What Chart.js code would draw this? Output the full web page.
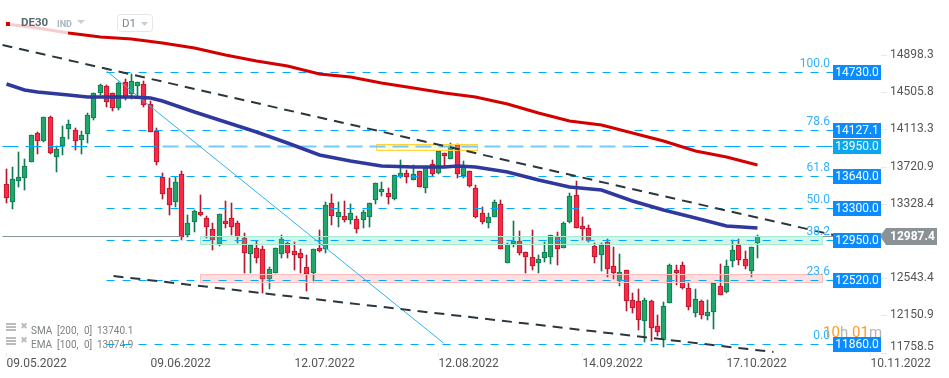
<!DOCTYPE html>
<html>
<head>
<meta charset="utf-8">
<title>DE30 D1</title>
<script src="https://cdn.jsdelivr.net/npm/chart.js@4/dist/chart.umd.min.js"></script>
<style>
  html, body { margin: 0; padding: 0; background: #fff; }
  #wrap { position: relative; width: 949px; height: 378px; }
</style>
</head>
<body>
<div id="wrap"><canvas id="chart"></canvas></div>
<script>
// daily candles, one entry per bar
var openP = [13534,13344,13572,13604,13766,14072,13994,14241,13825,13935,14121,14104,14005,14068,14237,14500,14568,14494,14342,14610,14487,14574,14589,14378,14096,13608,13492,13344,13640,13002,13133,13239,13175,13059,12904,13144,13175,13123,12964,12802,12859,12848,12535,12601,12802,12918,12827,12806,12658,12601,12859,12848,13334,13192,13197,13161,13165,13163,13192,13372,13456,13439,13382,13614,13650,13579,13671,13498,13745,13656,13861,13804,13945,13622,13671,13492,13228,13129,13186,13323,12701,12907,12933,12817,12770,12707,12753,12770,12985,12865,13133,13418,13091,13070,12880,12785,12922,12669,12517,12627,12313,12300,12095,12303,12036,11888,12279,12627,12680,12437,12179,12303,12145,12190,12461,12401,12728,12894,12743,12623,12915];
var highP = [13696,13713,13872,13798,14051,14083,14241,14252,13938,14149,14209,14125,14096,14286,14500,14592,14582,14500,14610,14645,14698,14610,14621,14413,14125,13653,13601,13608,13671,13210,13260,13421,13200,13123,13218,13358,13334,13144,13020,12897,12933,12880,12662,12862,12999,12929,12922,12851,12785,12855,13052,13350,13432,13347,13355,13326,13197,13263,13337,13545,13558,13492,13629,13790,13682,13738,13674,13727,13790,13885,13868,13967,13956,13780,13671,13527,13291,13228,13368,13368,12912,13147,13041,12817,13049,12788,12925,12996,13034,13133,13439,13566,13186,13101,12912,12918,12954,12873,12799,12630,12384,12426,12331,12313,12155,12296,12690,12680,12711,12496,12430,12313,12313,12490,12693,12735,12946,12954,12827,12876,12999];
var lowP = [13340,13277,13509,13474,13766,13854,13984,13854,13667,13846,14012,13899,13857,13973,14212,14476,14353,14304,14318,14423,14434,14458,14353,14083,13741,13376,13213,13298,12946,12975,13034,13200,12968,12841,12886,13070,12999,12918,12595,12598,12707,12384,12433,12595,12753,12760,12630,12595,12412,12517,12823,12812,13108,13087,13136,13115,13023,13076,13087,13329,13414,13329,13372,13601,13548,13579,13509,13445,13622,13643,13720,13804,13604,13604,13509,13175,13115,13073,13186,12848,12701,12876,12788,12601,12630,12595,12718,12693,12683,12865,13129,13070,12946,12929,12701,12623,12559,12532,12464,12197,12180,11997,11874,11884,11934,11821,12279,12472,12430,12208,12137,12113,12102,12008,12369,12384,12665,12683,12641,12559,12760];
var closeP = [13386,13587,13608,13724,14051,13994,14241,13868,13903,14030,14167,13994,14051,14262,14494,14579,14399,14342,14600,14445,14621,14610,14368,14083,13773,13435,13313,13555,12975,13123,13249,13213,13080,12943,13218,13118,13087,12981,12812,12897,12760,12532,12637,12859,12954,12812,12791,12760,12588,12848,12834,13313,13197,13239,13161,13228,13059,13239,13334,13545,13481,13403,13629,13650,13614,13640,13509,13713,13646,13882,13836,13938,13646,13720,13519,13192,13139,13186,13344,12848,12904,12933,12806,12770,12675,12743,12817,12996,12848,13123,13407,13070,13059,12933,12770,12897,12644,12601,12606,12306,12232,12106,12313,12015,11979,12247,12680,12598,12440,12243,12321,12155,12184,12490,12369,12669,12838,12735,12669,12869,12987.4];

// moving averages, read at these bars
var smaBars = [0,5,10,15,20,25,30,35,40,45,50,55,60,65,70,75,80,85,90,95,100,105,110,115,120];
var smaVals = [15225,15178,15130,15093,15072,15020,14972,14898,14840,14782,14703,14666,14603,14550,14502,14450,14381,14286,14205,14162,14075,13996,13885,13822,13740];
var emaBars = [0,3,5,10,13,20,23,25,30,35,40,45,50,55,60,65,70,72,75,80,85,90,95,100,105,110,115,120];
var emaVals = [14592,14529,14508,14476,14450,14450,14445,14418,14297,14191,14081,13970,13843,13775,13732,13720,13722,13732,13717,13659,13580,13506,13469,13363,13263,13179,13094,13075];

// fibonacci levels and the drawn objects, in bars and prices
var fibPrices = [14730,14127.1,13640,13300,12950,12520,11860];
var fibTexts = ['100.0','78.6','61.8','50.0','38.2','23.6','0.0'];
var tagPrices = [14730,14127.1,13950,13640,13300,12950,12520,11860];
var levelLine = 13950;
var lastPrice = 12987.4;
var lastLine = 12996;
var lineStart = -0.67, lineEnd = 132.1, fibStart = 16;
var upperTrendBars = [-0.67,132.1], upperTrendVals = [15004,12999];
var lowerTrendBars = [17.06,122.5], lowerTrendVals = [12563,11765];
var fibDiagBars = [16,69.9], fibDiagVals = [14730,11860];
var greenZone = [31,130.3,12996,12911];
var redZone = [31,130.3,12593,12509];
var yellowZone = [59.1,75.2,13969,13906];

// axes
var yTicks = [14898.3,14505.8,14113.3,13720.9,13328.4,12543.4,12150.9,11758.5];
var xTickBars = [0,23,46,69,92,115,138];
var xTickDates = ['09.05.2022','09.06.2022','12.07.2022','12.08.2022','14.09.2022','17.10.2022','10.11.2022'];
var yMin = 11754.8, yMax = 15478.5;
// drawing tools sit on their own slightly offset price range
var toolMin = 11757.6, toolMax = 15493;

var GREEN = '#20a56b', GREEN_DARK = '#0f7a50', RED = '#fb2a44', RED_DARK = '#b8162e';
var FONT = 'Roboto, sans-serif';

function isUp(i) { return closeP[i] >= openP[i]; }
function series(bars, vals) { return bars.map(function (b, i) { return { x: b, y: vals[i] }; }); }
function hline(price, from, to, color, width, dash, order) {
  return {
    type: 'line', data: [{ x: from, y: price }, { x: to, y: price }], yAxisID: 'yl',
    borderColor: color, borderWidth: width, borderDash: dash, pointRadius: 0, order: order
  };
}
function zone(z, border, fill, order) {
  return {
    type: 'line', yAxisID: 'yl', order: order, fill: 'shape', tension: 0, pointRadius: 0,
    borderColor: border, borderWidth: 1, backgroundColor: fill,
    data: [{ x: z[0], y: z[2] }, { x: z[1], y: z[2] }, { x: z[1], y: z[3] }, { x: z[0], y: z[3] }, { x: z[0], y: z[2] }]
  };
}

var datasets = [];
datasets.push({
  type: 'bar', grouped: false, order: 21, barThickness: 1, borderWidth: 0,
  data: openP.map(function (o, i) { return { x: i, y: [lowP[i], highP[i]] }; }),
  backgroundColor: openP.map(function (o, i) { return isUp(i) ? GREEN_DARK : RED_DARK; })
});
datasets.push({
  type: 'bar', grouped: false, order: 20, barThickness: 5, borderWidth: 1, borderSkipped: false,
  data: openP.map(function (o, i) { return { x: i, y: [o, closeP[i]] }; }),
  backgroundColor: openP.map(function (o, i) { return isUp(i) ? GREEN : RED; }),
  borderColor: openP.map(function (o, i) { return isUp(i) ? GREEN_DARK : RED_DARK; })
});
datasets.push(hline(lastLine, lineStart, 28, '#8a9499', 1, [], 15));
datasets.push(hline(lastLine, 130.3, lineEnd, '#8a9499', 1, [], 15));
datasets.push(zone(greenZone, '#a3ebd3', 'rgba(70,214,165,0.24)', 6));
datasets.push(zone(redZone, '#ffbcbc', 'rgba(255,120,120,0.24)', 6));
datasets.push(zone(yellowZone, '#ffd23f', 'rgba(255,232,120,0.28)', 6));
fibPrices.forEach(function (p) {
  datasets.push(hline(p, fibStart, lineEnd, '#00aaff', 1, [8, 8], 5));
});
// the 13950 level is paler through the middle of the chart
datasets.push(hline(levelLine, lineStart, 25, '#00aaff', 1, [16, 7], 5));
datasets.push(hline(levelLine, 25, 100, 'rgba(100,198,255,0.9)', 2, [16, 7], 5));
datasets.push(hline(levelLine, 100, lineEnd, '#00aaff', 1, [16, 7], 5));
datasets.push({
  type: 'line', data: series(fibDiagBars, fibDiagVals), borderColor: '#2db2f0',
  borderWidth: 1, pointRadius: 0, order: 4
});
datasets.push({
  type: 'line', data: series(smaBars, smaVals), borderColor: '#d40000',
  borderWidth: 3, pointRadius: 0, order: 3
});
datasets.push({
  type: 'line', data: series(emaBars, emaVals), borderColor: '#2f389c',
  borderWidth: 3.5, pointRadius: 0, order: 3
});
datasets.push({
  type: 'line', data: series(upperTrendBars, upperTrendVals), borderColor: '#2a363e',
  borderWidth: 2, borderDash: [10, 7], pointRadius: 0, order: 2
});
datasets.push({
  type: 'line', data: series(lowerTrendBars, lowerTrendVals), borderColor: '#2a363e',
  borderWidth: 2, borderDash: [10, 7], pointRadius: 0, order: 2
});

function text(ctx, str, x, y, font, color, align) {
  ctx.font = font;
  ctx.fillStyle = color;
  ctx.textAlign = align || 'left';
  ctx.textBaseline = 'middle';
  ctx.fillText(str, x, y);
}
function tri(ctx, x0, x1, y0, y1, color) {
  ctx.fillStyle = color;
  ctx.beginPath();
  ctx.moveTo(x0, y0);
  ctx.lineTo(x1, y0);
  ctx.lineTo((x0 + x1) / 2, y1);
  ctx.closePath();
  ctx.fill();
}
function legendRow(ctx, y, parts) {
  ctx.fillStyle = '#b9bcbd';
  ctx.fillRect(6, y - 6, 10, 2);
  ctx.fillRect(6, y - 3, 10, 2);
  ctx.fillRect(6, y, 10, 2);
  text(ctx, '\u2716', 24, y - 2, '9px "DejaVu Sans"', '#b9bcbd', 'center');
  parts.forEach(function (p) {
    text(ctx, p[0], p[1], y + 2, '10px ' + FONT, 'rgba(110,115,118,0.9)');
  });
}

// pixel snapping for crisp candles, chart overlays
var overlay = {
  id: 'overlay',
  beforeDatasetsUpdate: function (chart) {
    if (chart.$snapped) return;
    chart.$snapped = true;
    var sx = chart.scales.x, sy = chart.scales.y, sl = chart.scales.yl;
    var fx = sx.getPixelForValue.bind(sx), fy = sy.getPixelForValue.bind(sy), fl = sl.getPixelForValue.bind(sl);
    sx.getPixelForValue = function (v) { return Math.floor(fx(v)) + 0.5; };
    sy.getPixelForValue = function (v) { return Math.round(fy(v)); };
    sl.getPixelForValue = function (v) { return Math.round(fl(v) / 2) * 2 + 0.5; };
  },
  afterDatasetsDraw: function (chart) {
    var ctx = chart.ctx, y = chart.scales.yl;
    ctx.save();

    // header fades the start of the SMA line
    ctx.fillStyle = 'rgba(255,255,255,0.8)';
    ctx.fillRect(10, 18, 58, 20);
    ctx.fillStyle = '#d40000';
    ctx.fillRect(6, 22, 4, 4);
    text(ctx, 'DE30', 21, 23.5, 'bold 11.5px ' + FONT, '#5b6873');
    text(ctx, 'IND', 57, 24.5, 'bold 9px ' + FONT, '#a9b4bd');
    tri(ctx, 77, 85, 20, 24, '#c9ced2');
    ctx.strokeStyle = '#e6e6e6';
    ctx.lineWidth = 1;
    ctx.beginPath();
    ctx.roundRect(117.5, 14.5, 35, 17, 3);
    ctx.stroke();
    text(ctx, 'D1', 122, 24, '11.5px ' + FONT, '#7a8691');
    tri(ctx, 141, 148, 22, 26, '#c9ced2');

    legendRow(ctx, 329, [['SMA', 31], ['[200,', 57], ['0]', 84], ['13740.1', 97]]);
    legendRow(ctx, 343, [['EMA', 31], ['[100,', 57], ['0]', 84], ['13074.9', 97]]);

    fibPrices.forEach(function (p, i) {
      text(ctx, fibTexts[i], 830, Math.floor(y.getPixelForValue(p)) - 8.5, '12px ' + FONT, '#33b1ff', 'right');
    });

    // countdown to candle close
    var cy = 333, cf = '15px ' + FONT;
    text(ctx, '10', 823, cy, cf, '#ff9a1f');
    text(ctx, 'h', 840, cy, cf, '#b5b5b5');
    text(ctx, '01', 852, cy, cf, '#ff9a1f');
    text(ctx, 'm', 869, cy, cf, '#b5b5b5');

    tagPrices.forEach(function (p) {
      var py = Math.floor(y.getPixelForValue(p));
      ctx.fillStyle = p === levelLine ? '#0aa6ee' : '#0a8cff';
      ctx.fillRect(833, py - 7, 48, 15);
      text(ctx, p.toFixed(1), 857, py + 0.5, '12px ' + FONT, '#fff', 'center');
    });

    // last price tag
    var ly = Math.round(chart.scales.y.getPixelForValue(lastPrice));
    ctx.fillStyle = '#8a9296';
    ctx.beginPath();
    ctx.moveTo(880, ly);
    ctx.lineTo(886, ly - 8);
    ctx.lineTo(937, ly - 8);
    ctx.lineTo(937, ly + 9);
    ctx.lineTo(886, ly + 9);
    ctx.closePath();
    ctx.fill();
    text(ctx, lastPrice.toFixed(1), 890, ly + 0.5, 'bold 12px ' + FONT, '#fff');

    // lowest price tick sits above its mark so it clears the date axis
    text(ctx, yTicks[yTicks.length - 1].toFixed(1), 890, 347, '12px ' + FONT, '#555');
    ctx.restore();
  }
};

new Chart(document.getElementById('chart'), {
  data: { datasets: datasets },
  plugins: [overlay],
  options: {
    responsive: true,
    maintainAspectRatio: false,
    animation: false,
    events: [],
    layout: { padding: 0 },
    plugins: { legend: { display: false }, tooltip: { enabled: false } },
    scales: {
      x: {
        type: 'linear', min: -0.99, max: 139.7, offset: false,
        afterFit: function (s) { s.height = 25; s.paddingLeft = 0; s.paddingRight = 0; },
        afterBuildTicks: function (s) { s.ticks = xTickBars.map(function (b) { return { value: b }; }); },
        border: { display: false },
        grid: { offset: false, drawOnChartArea: false, tickLength: 3, color: '#e2e2e2' },
        ticks: {
          align: 'start', autoSkip: false, maxRotation: 0, padding: 1,
          color: '#555', font: { family: FONT, size: 12 },
          callback: function (v) { return xTickDates[xTickBars.indexOf(v)]; }
        }
      },
      y: {
        position: 'right', min: yMin, max: yMax,
        afterFit: function (s) { s.width = 68; s.paddingTop = 0; s.paddingBottom = 0; },
        afterBuildTicks: function (s) { s.ticks = yTicks.map(function (v) { return { value: v }; }); },
        border: { display: false },
        grid: { drawOnChartArea: false, tickLength: 6, color: '#e8e8e8' },
        ticks: {
          autoSkip: false, padding: 3, color: '#555', font: { family: FONT, size: 12 },
          callback: function (v) { return v === yTicks[yTicks.length - 1] ? '' : v.toFixed(1); }
        }
      },
      yl: { display: false, position: 'right', min: toolMin, max: toolMax }
    }
  }
});
</script>
</body>
</html>
